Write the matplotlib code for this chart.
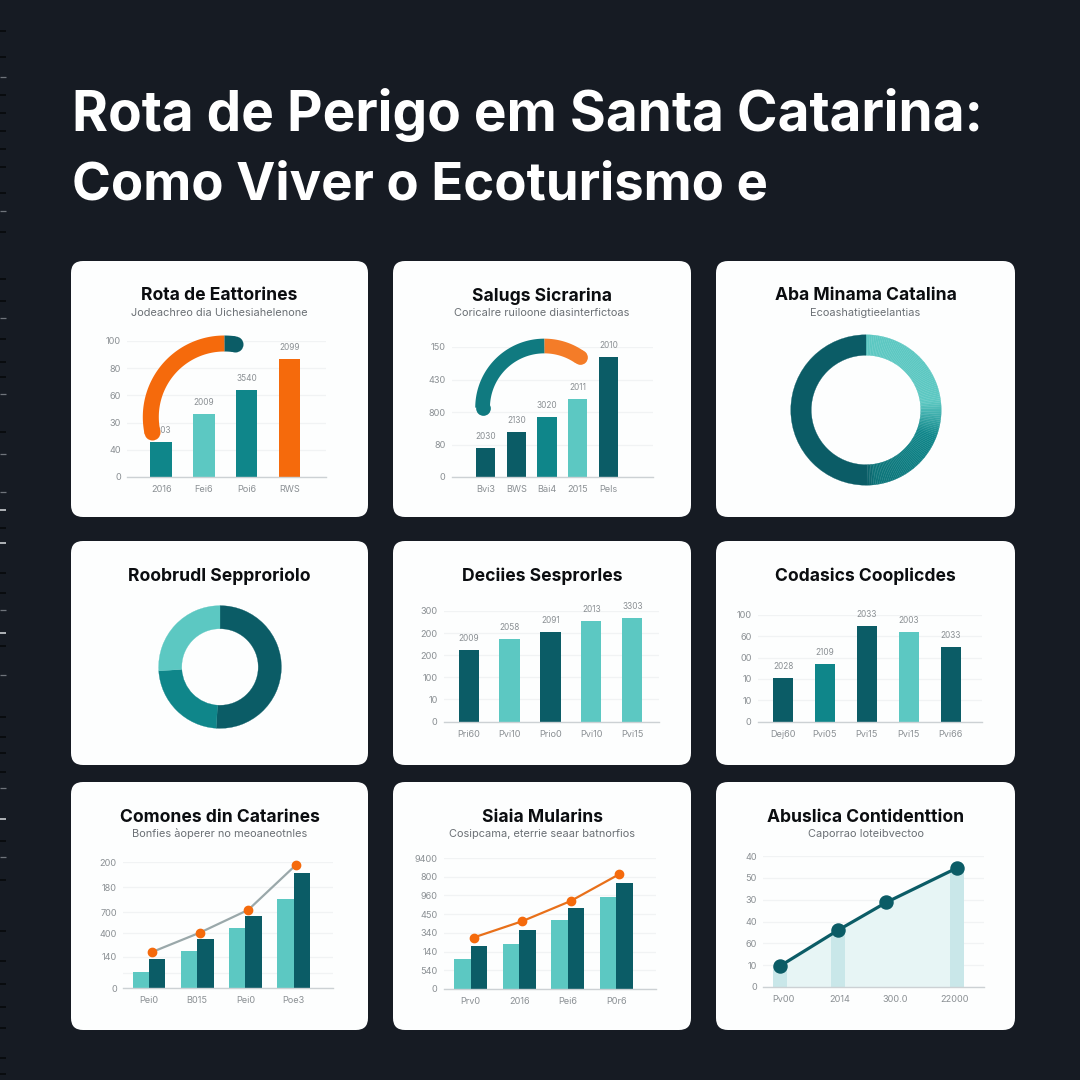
import numpy as np
import matplotlib
matplotlib.use('Agg')
import matplotlib.pyplot as plt
from matplotlib.colors import to_rgb
from matplotlib.patches import FancyBboxPatch

plt.rcParams['font.family'] = ['Inter', 'DejaVu Sans']

BG = '#161b23'
DARK = '#0b5c66'
MID = '#0f868a'
LIGHT = '#5cc8c2'
ORANGE = '#f56a0c'
GRID = '#f1f3f4'
BASE = '#ccd1d4'
TICK = '#8b9094'

title_lines = ['Rota de Perigo em Santa Catarina:', 'Como Viver o Ecoturismo e']

# chart 1
c1_title = 'Rota de Eattorines'
c1_sub = 'Jodeachreo dia Uichesiahelenone'
c1_cats = ['2016', 'Fei6', 'Poi6', 'RWS']
c1_vals = [26, 46, 64, 87]
c1_colors = [MID, LIGHT, MID, ORANGE]
c1_labels = ['2003', '2009', '3540', '2099']
c1_yticks = [0, 20, 40, 60, 80, 100]
c1_ylabels = ['0', '40', '30', '60', '80', '100']

# chart 2
c2_title = 'Salugs Sicrarina'
c2_sub = 'Coricalre ruiloone diasinterfictoas'
c2_cats = ['Bvi3', 'BWS', 'Bài4', '2015', 'Pels']
c2_vals = [36, 55, 74, 96, 148]
c2_colors = [DARK, DARK, MID, LIGHT, DARK]
c2_labels = ['2030', '2130', '3020', '2011', '2010']
c2_yticks = [0, 40, 80, 120, 160]
c2_ylabels = ['0', '80', '800', '430', '150']

# chart 3 and 4, donuts
c3_title = 'Aba Minama Catalina'
c3_sub = 'Ecoashatigtieelantias'
c3_vals = [25, 25, 50]
c3_colors = [LIGHT, MID, DARK]
c4_title = 'Roobrudl Sepproriolo'
c4_vals = [51, 23, 26]
c4_colors = [DARK, MID, LIGHT]

# chart 5
c5_title = 'Deciies Sesprorles'
c5_cats = ['Pri60', 'Pvi10', 'Prio0', 'Pvi10', 'Pvi15']
c5_vals = [193, 223, 243, 272, 280]
c5_colors = [DARK, LIGHT, DARK, LIGHT, LIGHT]
c5_labels = ['2009', '2058', '2091', '2013', '3303']
c5_yticks = [0, 60, 120, 180, 240, 300]
c5_ylabels = ['0', '10', '100', '200', '200', '300']

# chart 6
c6_title = 'Codasics Cooplicdes'
c6_cats = ['Dej60', 'Pvi05', 'Pvi15', 'Pvi15', 'Pvi66']
c6_vals = [41, 54, 90, 84, 70]
c6_colors = [DARK, MID, DARK, LIGHT, DARK]
c6_labels = ['2028', '2109', '2033', '2003', '2033']
c6_yticks = [0, 20, 40, 60, 80, 100]
c6_ylabels = ['0', '10', '10', '00', '60', '100']

# chart 7
c7_title = 'Comones din Catarines'
c7_sub = 'Bonfies àoperer no meoaneotnles'
c7_cats = ['Pei0', 'B015', 'Pei0', 'Poe3']
c7_light = [25, 59, 95, 142]
c7_dark = [46, 78, 115, 183]
c7_line = [57, 88, 124, 196]
c7_yticks = [0, 24, 50, 87, 120, 160, 200]
c7_ylabels = ['0', '', '140', '400', '700', '180', '200']

# chart 8
c8_title = 'Siaia Mularins'
c8_sub = 'Cosipcama, eterrie seaar batnorfios'
c8_cats = ['Prv0', '2016', 'Pei6', 'P0r6']
c8_light = [159, 241, 369, 489]
c8_dark = [232, 315, 431, 565]
c8_line = [275, 362, 470, 613]
c8_yticks = [0, 100, 200, 300, 400, 500, 600, 700]
c8_ylabels = ['0', '540', '140', '340', '450', '960', '800', '9400']

# chart 9
c9_title = 'Abuslica Contidenttion'
c9_sub = 'Caporrao Ioteibvectoo'
c9_x = [0, 1, 1.84, 3.06]
c9_vals = [9.7, 26, 38.8, 54.5]
c9_cats = ['Pv00', '2014', '300.0', '22000']
c9_catx = [0.05, 1.03, 2.0, 3.02]
c9_yticks = [0, 10, 20, 30, 40, 50, 60]
c9_ylabels = ['0', '10', '60', '40', '30', '50', '40']

# dashes down the left edge of the page
edge_dark = [31, 57, 95, 113, 131, 149, 167, 193, 232, 279, 301, 339, 362, 377, 432,
             528, 573, 593, 646, 717, 737, 753, 772, 841, 880, 931, 961, 984, 1007,
             1028, 1058, 1074]
edge_grey = [77, 211, 318, 394, 454, 492, 610, 675, 788, 857]
edge_white = [510, 543, 633, 819]

W = 1080
fig = plt.figure(figsize=(10.8, 10.8), dpi=100, facecolor=BG)

page = fig.add_axes([0, 0, 1, 1])
page.set_xlim(0, W)
page.set_ylim(W, 0)
page.axis('off')


def px_axes(x0, y0, x1, y1):
    # rectangle given in image pixels, y going down
    ax = fig.add_axes([x0 / W, 1 - y1 / W, (x1 - x0) / W, (y1 - y0) / W], zorder=2)
    ax.patch.set_alpha(0)
    return ax


def card(x0, y0, x1, y1, title, sub=None):
    page.add_patch(FancyBboxPatch((x0 + 10, y0 + 10), x1 - x0 - 20, y1 - y0 - 20,
                                  boxstyle='round,pad=10,rounding_size=12',
                                  fc='#fdfefe', ec='none'))
    cx = (x0 + x1) / 2
    page.text(cx, y0 + 35, title, ha='center', va='center', fontsize=12.6,
              fontweight='bold', color='#0b0d10')
    if sub:
        page.text(cx, y0 + 52, sub, ha='center', va='center', fontsize=7.9, color='#6b7075')


def style(ax, yticks, ylabels, top):
    ax.set_ylim(0, top)
    for s in ['top', 'right', 'left']:
        ax.spines[s].set_visible(False)
    ax.spines['bottom'].set_color(BASE)
    ax.spines['bottom'].set_linewidth(1)
    ax.set_yticks(yticks)
    ax.set_yticklabels(ylabels)
    ax.tick_params(axis='both', length=0, labelsize=6.6, labelcolor=TICK)
    ax.tick_params(axis='y', pad=4.5)
    ax.tick_params(axis='x', pad=6)
    ax.grid(axis='y', color=GRID, linewidth=0.9)
    ax.set_axisbelow(True)


def bars(box, cats, vals, colors, labels, yticks, ylabels, top, xlim, width):
    ax = px_axes(*box)
    xs = np.arange(len(vals))
    ax.bar(xs, vals, width=width, color=colors)
    for x, v, lab in zip(xs, vals, labels):
        ax.annotate(lab, (x, v), xytext=(0, 5), textcoords='offset points', ha='center',
                    va='bottom', fontsize=6, color=TICK)
    style(ax, yticks, ylabels, top)
    ax.set_xlim(*xlim)
    ax.set_xticks(xs)
    ax.set_xticklabels(cats)
    return ax


def grouped(box, cats, light, dark, line, yticks, ylabels, top, xlim, line_color, lw):
    ax = px_axes(*box)
    xs = np.arange(len(cats))
    ax.bar(xs - 0.17, light, width=0.34, color=LIGHT)
    ax.bar(xs + 0.17, dark, width=0.34, color=DARK)
    ax.plot(xs + 0.06, line, color=line_color, linewidth=lw, zorder=3)
    ax.plot(xs + 0.06, line, 'o', color=ORANGE, markersize=6, zorder=4, clip_on=False)
    style(ax, yticks, ylabels, top)
    ax.set_xlim(*xlim)
    ax.set_xticks(xs)
    ax.set_xticklabels(cats)


def arc(cx, cy, r, start, end, color, lw_px):
    # butt ended stroke, with a round dot on the free end
    t = np.radians(np.linspace(start, end, 100))
    lw = lw_px * 0.72
    page_top.plot(cx + r * np.cos(t), cy - r * np.sin(t), color=color, linewidth=lw,
                  solid_capstyle='butt')
    page_top.plot(cx + r * np.cos(t[-1]), cy - r * np.sin(t[-1]), 'o', color=color,
                  markersize=lw, markeredgewidth=0)


def donut(cx, cy, r_out, r_in, vals, colors):
    ax = px_axes(cx - r_out - 1, cy - r_out - 1, cx + r_out + 1, cy + r_out + 1)
    wedges, _ = ax.pie(vals, colors=colors, startangle=90, counterclock=False, radius=1,
                       wedgeprops={'width': 1 - r_in / r_out, 'linewidth': 0.2})
    for w in wedges:
        w.set_edgecolor(w.get_facecolor())
    ax.set_xlim(-1.01, 1.01)
    ax.set_ylim(-1.01, 1.01)


def shaded(vals, colors, stops, steps=60):
    # cut the first two slices into thin ones so the colour can run from one to the next
    out_vals, out_colors = [], []
    pos_stops = [s[0] for s in stops]
    rgb_stops = np.array([to_rgb(s[1]) for s in stops])
    done = 0
    for v, c in zip(vals, colors):
        if c == colors[-1]:
            out_vals.append(v)
            out_colors.append(c)
            continue
        for i in range(steps):
            mid = done + v * (i + 0.5) / steps
            out_vals.append(v / steps)
            out_colors.append([np.interp(mid, pos_stops, rgb_stops[:, k]) for k in range(3)])
        done += v
    return out_vals, out_colors


# page furniture, the two lines differ a little in size to keep the reference's line widths
page.text(72, 131, title_lines[0], fontsize=39.6, fontweight='bold', color='white',
          ha='left', va='baseline')
page.text(72, 200, title_lines[1], fontsize=37.9, fontweight='bold', color='white',
          ha='left', va='baseline')
page.hlines(edge_dark, 0, 6, color='#07090c', linewidth=1.2)
page.hlines(edge_grey, 0, 6, color='#6f747b', linewidth=0.9)
page.hlines(edge_white, 0, 6, color='#d8dbde', linewidth=1.1)

card(71, 261, 368, 517, c1_title, c1_sub)
card(393, 261, 691, 517, c2_title, c2_sub)
card(716, 261, 1015, 517, c3_title, c3_sub)
card(71, 541, 368, 765, c4_title)
card(393, 541, 691, 765, c5_title)
card(716, 541, 1015, 765, c6_title)
card(71, 782, 368, 1030, c7_title, c7_sub)
card(393, 782, 691, 1030, c8_title, c8_sub)
card(716, 782, 1015, 1030, c9_title, c9_sub)

bars((127, 341, 326, 477), c1_cats, c1_vals, c1_colors, c1_labels, c1_yticks, c1_ylabels,
     100, (-0.8, 3.86), 0.5)
bars((452, 347, 653, 477), c2_cats, c2_vals, c2_colors, c2_labels, c2_yticks, c2_ylabels,
     160, (-1.1, 5.45), 0.63)
c3_shade = [(0, LIGHT), (23, LIGHT), (31, MID), (48, '#0d7479'), (50, DARK)]
donut(866, 410, 75, 54.5, *shaded(c3_vals, c3_colors, c3_shade))
donut(220, 667, 61, 38, c4_vals, c4_colors)
bars((444, 611, 659, 721.5), c5_cats, c5_vals, c5_colors, c5_labels, c5_yticks, c5_ylabels,
     300, (-0.6, 4.65), 0.49)
bars((758, 615, 982, 721.5), c6_cats, c6_vals, c6_colors, c6_labels, c6_yticks, c6_ylabels,
     100, (-0.6, 4.75), 0.48)
grouped((123, 862, 333, 988), c7_cats, c7_light, c7_dark, c7_line, c7_yticks, c7_ylabels,
        200, (-0.54, 3.82), '#9aa8aa', 1.6)
grouped((444, 858, 656, 989), c8_cats, c8_light, c8_dark, c8_line, c8_yticks, c8_ylabels,
        700, (-0.55, 3.82), '#e8701a', 1.6)

ax9 = px_axes(763, 856, 984, 987)
ax9.fill_between(c9_x, c9_vals, color='#e7f5f5', linewidth=0)
ax9.bar([c9_x[0], c9_x[1], c9_x[3]], [c9_vals[0], c9_vals[1], c9_vals[3]], width=0.24,
        color='#c9e7e9')
ax9.plot(c9_x, c9_vals, '-o', color=DARK, linewidth=2.3, markersize=9.4, zorder=4)
style(ax9, c9_yticks, c9_ylabels, 60)
ax9.set_xlim(-0.3, 3.53)
ax9.set_xticks(c9_catx)
ax9.set_xticklabels(c9_cats)

# gauge strokes lie over the first two bar charts
page_top = fig.add_axes([0, 0, 1, 1], zorder=5)
page_top.set_xlim(0, W)
page_top.set_ylim(W, 0)
page_top.axis('off')
page_top.patch.set_alpha(0)
arc(224.3, 417, 73.5, 90, 82, DARK, 16)
arc(224.3, 417, 73.5, 90, 192, ORANGE, 16)
arc(544.3, 407.7, 61.7, 90, 55, '#f47c28', 14.7)
arc(544.3, 407.7, 61.7, 90, 180, '#107a80', 14.7)

fig.savefig('out.png', dpi=100, facecolor=BG)
plt.close(fig)
